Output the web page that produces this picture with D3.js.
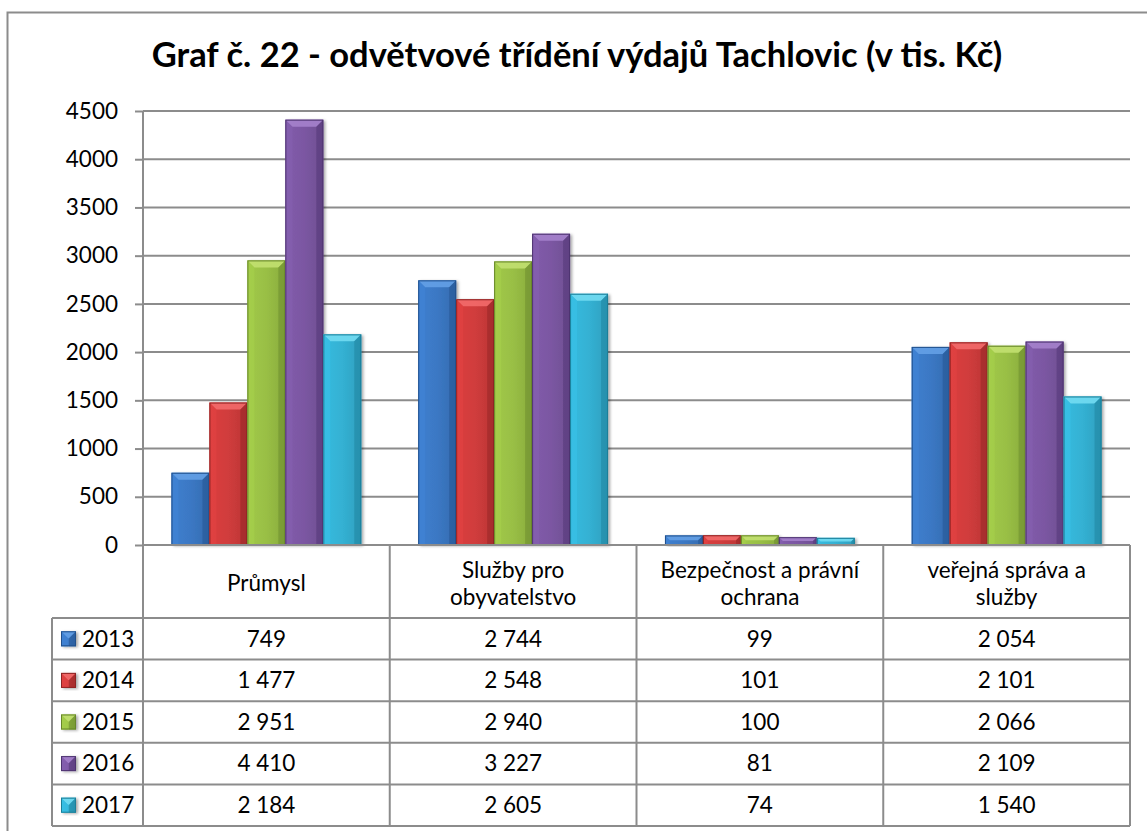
<!DOCTYPE html>
<html>
<head>
<meta charset="utf-8">
<title>Graf č. 22</title>
<style>
  body { margin: 0; background: #fff; }
  svg text { font-family: Lato, "Noto Sans", sans-serif; fill: #000; }
</style>
</head>
<body>
<script src="https://cdnjs.cloudflare.com/ajax/libs/d3/7.8.5/d3.min.js"></script>
<script>
// data
var categories = ["Průmysl", "Služby pro obyvatelstvo", "Bezpečnost a právní ochrana", "veřejná správa a služby"];
var categoryLines = [["Průmysl"], ["Služby pro", "obyvatelstvo"], ["Bezpečnost a právní", "ochrana"], ["veřejná správa a", "služby"]];
var years = ["2013", "2014", "2015", "2016", "2017"];
var v2013 = [749, 2744, 99, 2054];
var v2014 = [1477, 2548, 101, 2101];
var v2015 = [2951, 2940, 100, 2066];
var v2016 = [4410, 3227, 81, 2109];
var v2017 = [2184, 2605, 74, 1540];
var yTicks = [0, 500, 1000, 1500, 2000, 2500, 3000, 3500, 4000, 4500];
var title = "Graf č. 22 - odvětvové třídění výdajů Tachlovic (v tis. Kč)";

var series = [v2013, v2014, v2015, v2016, v2017];

var w = 1147, h = 831;
var plotLeft = 143, plotRight = 1130, plotTop = 111, plotBase = 545;
var headerBottom = 618, rowH = 41.6, legendLeft = 52;

// base, light, dark
var colors = [
  ["#3b78c4", "#64a0e6", "#21508c"],
  ["#d03c3c", "#f26a6a", "#8e2323"],
  ["#99bf45", "#c2e070", "#67862a"],
  ["#7b57a2", "#a582cc", "#4e3470"],
  ["#34b1d3", "#72dcf2", "#1b7f99"]
];

var svg = d3.select("body").append("svg")
  .attr("width", w)
  .attr("height", h);

var defs = svg.append("defs");
var shadow = defs.append("filter").attr("id", "shadow")
  .attr("x", "-20%").attr("y", "-10%").attr("width", "150%").attr("height", "130%");
shadow.append("feDropShadow").attr("dx", 2).attr("dy", 1)
  .attr("stdDeviation", 1.5).attr("flood-color", "#000").attr("flood-opacity", 0.35);

colors.forEach(function(c, i) {
  var g = defs.append("linearGradient").attr("id", "grad" + i)
    .attr("x1", "0").attr("x2", "1").attr("y1", "0").attr("y2", "0");
  g.append("stop").attr("offset", "0%").attr("stop-color", d3.color(c[0]).brighter(0.15));
  g.append("stop").attr("offset", "50%").attr("stop-color", c[0]);
  g.append("stop").attr("offset", "100%").attr("stop-color", d3.color(c[0]).darker(0.3));
});

// outer chart border
svg.append("rect")
  .attr("x", 7.5).attr("y", 12.5)
  .attr("width", w).attr("height", h)
  .attr("fill", "none").attr("stroke", "#8c8c8c").attr("stroke-width", 2);

svg.append("text")
  .attr("x", 577).attr("y", 67)
  .attr("text-anchor", "middle")
  .attr("font-weight", "bold")
  .attr("font-size", 34.5)
  .text(title);

var y = d3.scaleLinear().domain([0, 4500]).range([plotBase, plotTop]);
var x0 = d3.scaleBand().domain(categories).range([plotLeft, plotRight]).paddingInner(0).paddingOuter(0);
var x1 = d3.scaleBand().domain(years).range([0, x0.bandwidth()]).paddingInner(0).paddingOuter(0.75);

// gridlines + axis
var yAxis = d3.axisLeft(y).tickValues(yTicks).tickSize(8).tickPadding(17).tickFormat(d3.format("d"));
var gAxis = svg.append("g")
  .attr("transform", "translate(" + plotLeft + ",0)")
  .call(yAxis);
gAxis.select(".domain").remove();
gAxis.selectAll(".tick line").attr("stroke", "#8c8c8c").attr("stroke-width", 2);
gAxis.selectAll(".tick text").attr("font-size", 22.5).attr("fill", "#000")
  .style("font-family", "Lato, 'Noto Sans', sans-serif");

svg.append("g").selectAll("line")
  .data(yTicks.filter(function(d) { return d > 0; }))
  .enter().append("line")
  .attr("x1", plotLeft).attr("x2", plotRight)
  .attr("y1", function(d) { return y(d); })
  .attr("y2", function(d) { return y(d); })
  .attr("stroke", "#8c8c8c").attr("stroke-width", 2);

// bars with a bevel look
function drawBar(g, bx, by, bw, bh, si) {
  var c = colors[si];
  var b = Math.min(7, bh / 2, bw / 2);
  g.append("rect")
    .attr("x", bx).attr("y", by).attr("width", bw).attr("height", bh)
    .attr("fill", "url(#grad" + si + ")")
    .attr("filter", "url(#shadow)");
  // top bevel
  g.append("path")
    .attr("d", "M" + bx + "," + by + "L" + (bx + bw) + "," + by + "L" + (bx + bw - b) + "," + (by + b) + "L" + (bx + b) + "," + (by + b) + "Z")
    .attr("fill", c[1]).attr("opacity", 0.9);
  // left bevel
  g.append("path")
    .attr("d", "M" + bx + "," + by + "L" + (bx + b) + "," + (by + b) + "L" + (bx + b) + "," + (by + bh) + "L" + bx + "," + (by + bh) + "Z")
    .attr("fill", d3.color(c[0]).brighter(0.25)).attr("opacity", 0.6);
  // right bevel
  g.append("path")
    .attr("d", "M" + (bx + bw) + "," + by + "L" + (bx + bw - b) + "," + (by + b) + "L" + (bx + bw - b) + "," + (by + bh) + "L" + (bx + bw) + "," + (by + bh) + "Z")
    .attr("fill", c[2]).attr("opacity", 0.45);
  g.append("rect")
    .attr("x", bx + 0.5).attr("y", by + 0.5).attr("width", bw - 1).attr("height", Math.max(0, bh - 1))
    .attr("fill", "none").attr("stroke", c[2]).attr("stroke-width", 1);
}

var barsG = svg.append("g");
categories.forEach(function(cat, ci) {
  series.forEach(function(vals, si) {
    var bx = x0(cat) + x1(years[si]);
    var by = y(vals[ci]);
    drawBar(barsG, bx, by, x1.bandwidth(), plotBase - by, si);
  });
});

// vertical axis line
svg.append("line")
  .attr("x1", plotLeft).attr("x2", plotLeft)
  .attr("y1", plotTop).attr("y2", plotBase + 4)
  .attr("stroke", "#8c8c8c").attr("stroke-width", 2);

// data table
var fmt = d3.formatLocale({ decimal: ",", thousands: " ", grouping: [3], currency: ["", ""] }).format(",d");
var tbl = svg.append("g");
var lineCol = "#8c8c8c";
var tblFont = 22.5;

// header row
categories.forEach(function(cat, ci) {
  var cx = x0(cat) + x0.bandwidth() / 2;
  var lines = categoryLines[ci];
  var midY = (plotBase + headerBottom) / 2 + 2;
  var lh = 27.5;
  lines.forEach(function(t, li) {
    tbl.append("text")
      .attr("x", cx)
      .attr("y", midY + (li - (lines.length - 1) / 2) * lh)
      .attr("dy", "0.35em")
      .attr("text-anchor", "middle")
      .attr("font-size", tblFont)
      .text(t);
  });
});

// data rows
years.forEach(function(yr, si) {
  var ry = headerBottom + si * rowH;
  var cy = ry + rowH / 2;
  var kx = 61, ks = 15;
  drawBar(tbl, kx, cy - ks / 2, ks, ks, si);
  tbl.append("text")
    .attr("x", 82).attr("y", cy).attr("dy", "0.35em")
    .attr("font-size", tblFont)
    .text(yr);
  categories.forEach(function(cat, ci) {
    tbl.append("text")
      .attr("x", x0(cat) + x0.bandwidth() / 2).attr("y", cy).attr("dy", "0.35em")
      .attr("text-anchor", "middle")
      .attr("font-size", tblFont)
      .text(fmt(series[si][ci]));
  });
});

// table grid lines
var tableBottom = headerBottom + years.length * rowH;
tbl.append("line").attr("x1", plotLeft).attr("x2", plotRight).attr("y1", plotBase).attr("y2", plotBase);
d3.range(years.length + 1).forEach(function(i) {
  var ly = headerBottom + i * rowH;
  tbl.append("line").attr("x1", legendLeft).attr("x2", plotRight).attr("y1", ly).attr("y2", ly);
});
x0.domain().forEach(function(cat) {
  tbl.append("line").attr("x1", x0(cat)).attr("x2", x0(cat)).attr("y1", plotBase).attr("y2", tableBottom);
});
tbl.append("line").attr("x1", plotRight).attr("x2", plotRight).attr("y1", plotBase).attr("y2", tableBottom);
tbl.append("line").attr("x1", legendLeft).attr("x2", legendLeft).attr("y1", headerBottom).attr("y2", tableBottom);
tbl.selectAll("line").attr("stroke", lineCol).attr("stroke-width", 2);
</script>
</body>
</html>
